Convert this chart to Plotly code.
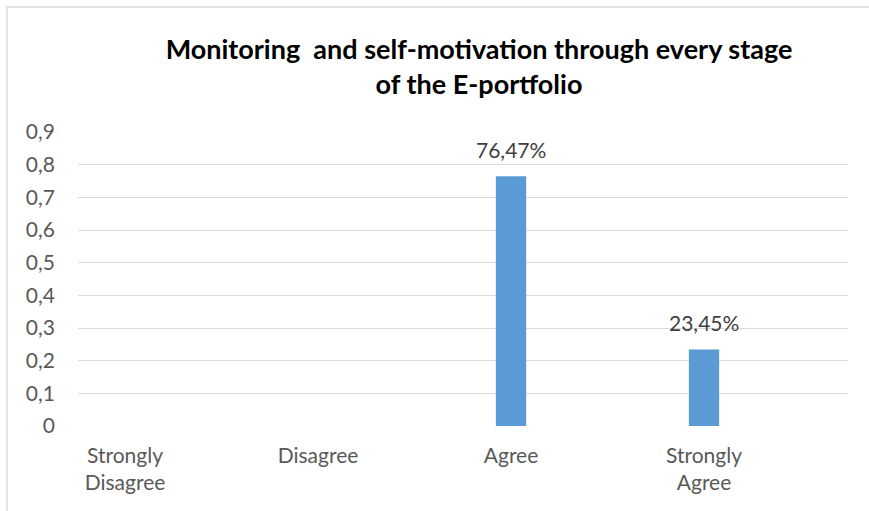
import plotly.graph_objects as go

categories = ["Strongly<br>Disagree", "Disagree", "Agree", "Strongly<br>Agree"]
values = [None, None, 0.7647, 0.2345]
label_texts = ["", "", "76,47%", "23,45%"]
y_ticks = [0, 0.1, 0.2, 0.3, 0.4, 0.5, 0.6, 0.7, 0.8, 0.9]
y_tick_labels = ["0", "0,1", "0,2", "0,3", "0,4", "0,5", "0,6", "0,7", "0,8", "0,9"]

W, H = 869, 511
L, R, T, B = 78, 21, 132, 85
FONT = "Lato"
TXT = 21

fig = go.Figure()
fig.add_trace(go.Bar(
    x=list(range(len(categories))),
    y=values,
    width=0.157,
    marker=dict(color="#5b9bd5", line=dict(width=0)),
    hoverinfo="skip",
))

# value labels above bars
for i, (v, t) in enumerate(zip(values, label_texts)):
    if v is None:
        continue
    fig.add_annotation(
        x=i, y=v, text=t, showarrow=False, yanchor="bottom", yshift=12,
        font=dict(family=FONT, size=TXT, color="#404040"),
    )

plot_w = W - L - R
plot_h = H - T - B
# outer chart border (light gray)
fig.add_shape(
    type="rect", xref="paper", yref="paper",
    x0=(7 - L) / plot_w, x1=(W + 10 - L) / plot_w,
    y0=(H - B - (H + 10)) / plot_h, y1=(H - B - 7) / plot_h,
    line=dict(color="#d9d9d9", width=1.3), fillcolor="rgba(0,0,0,0)", layer="below",
)

fig.update_layout(
    width=W, height=H,
    margin=dict(l=L, r=R, t=T, b=B),
    paper_bgcolor="white", plot_bgcolor="white",
    showlegend=False,
    title=dict(
        text="<b>Monitoring  and self-motivation through every stage<br>of the E-portfolio</b>",
        x=479 / W, xanchor="center", y=1 - 59 / H, yanchor="middle",
        font=dict(family=FONT, size=27, color="#000000"),
    ),
    xaxis=dict(
        tickmode="array", tickvals=list(range(len(categories))), ticktext=categories,
        range=[-0.2435, 3.746], showgrid=False, zeroline=False, showline=False,
        ticks="", ticklabelstandoff=15,
        tickfont=dict(family=FONT, size=TXT, color="#595959"),
        fixedrange=True,
    ),
    yaxis=dict(
        range=[0, 0.9], tickmode="array", tickvals=y_ticks, ticktext=y_tick_labels,
        showgrid=True, gridcolor="#d9d9d9", gridwidth=1.3, zeroline=False,
        showline=False, ticks="", ticklabelstandoff=22,
        tickfont=dict(family=FONT, size=TXT, color="#595959"),
        fixedrange=True,
    ),
)

fig.write_html("out.html")
